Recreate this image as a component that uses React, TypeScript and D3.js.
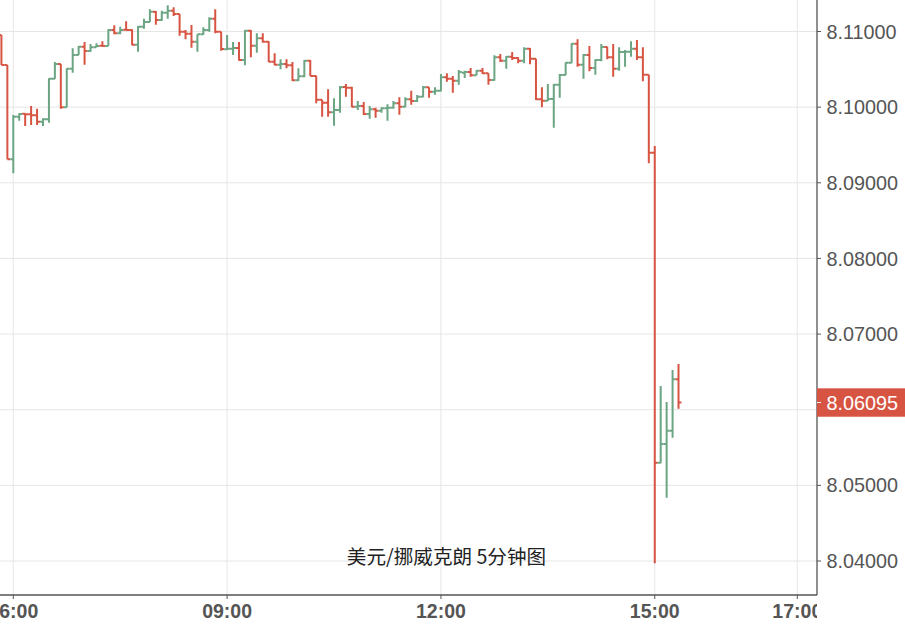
import React from "react";
import * as d3 from "d3";

const times = [
  "05:50","05:55","06:00","06:05","06:10","06:15","06:20","06:25","06:30","06:35","06:40","06:45","06:50","06:55",
  "07:00","07:05","07:10","07:15","07:20","07:25","07:30","07:35","07:40","07:45","07:50","07:55",
  "08:00","08:05","08:10","08:15","08:20","08:25","08:30","08:35","08:40","08:45","08:50","08:55",
  "09:00","09:05","09:10","09:15","09:20","09:25","09:30","09:35","09:40","09:45","09:50","09:55",
  "10:00","10:05","10:10","10:15","10:20","10:25","10:30","10:35","10:40","10:45","10:50","10:55",
  "11:00","11:05","11:10","11:15","11:20","11:25","11:30","11:35","11:40","11:45","11:50","11:55",
  "12:00","12:05","12:10","12:15","12:20","12:25","12:30","12:35","12:40","12:45","12:50","12:55",
  "13:00","13:05","13:10","13:15","13:20","13:25","13:30","13:35","13:40","13:45","13:50","13:55",
  "14:00","14:05","14:10","14:15","14:20","14:25","14:30","14:35","14:40","14:45","14:50","14:55",
  "15:00","15:05","15:10","15:15","15:20",
];

const open = [
  8.10954,8.10557,8.09310,8.09874,8.09914,8.09905,8.09892,8.09808,8.09839,8.10376,8.10570,8.09997,8.10509,8.10689,
  8.10799,8.10742,8.10791,8.10813,8.10808,8.11020,8.10976,8.11024,8.11020,8.10826,8.11064,8.11126,
  8.11262,8.11152,8.11249,8.11275,8.11231,8.10998,8.10971,8.10866,8.10963,8.11020,8.11170,8.10998,
  8.10764,8.10773,8.10782,8.10623,8.11011,8.10813,8.10910,8.10866,8.10601,8.10562,8.10570,8.10553,
  8.10354,8.10407,8.10614,8.10412,8.10099,8.10059,8.09931,8.09962,8.10266,8.10257,8.10006,8.10015,
  8.09909,8.09971,8.09953,8.09984,8.09993,8.10050,8.10006,8.10103,8.10081,8.10138,8.10262,8.10205,
  8.10218,8.10394,8.10376,8.10350,8.10456,8.10465,8.10420,8.10482,8.10447,8.10359,8.10658,8.10614,
  8.10667,8.10650,8.10614,8.10773,8.10641,8.10103,8.10086,8.10108,8.10297,8.10425,8.10588,8.10839,
  8.10562,8.10689,8.10517,8.10623,8.10795,8.10658,8.10509,8.10729,8.10733,8.10773,8.10658,8.10429,
  8.09398,8.05299,8.05547,8.05722,8.06402,
];

const high = [
  8.10954,8.10557,8.09896,8.09918,8.09918,8.10015,8.09980,8.09852,8.10381,8.10597,8.10570,8.10513,8.10777,8.10808,
  8.10861,8.10835,8.10844,8.10870,8.11029,8.11082,8.11064,8.11134,8.11029,8.11073,8.11170,8.11293,
  8.11271,8.11275,8.11346,8.11320,8.11231,8.11020,8.11086,8.10963,8.11055,8.11187,8.11293,8.10998,
  8.10954,8.10861,8.10861,8.11020,8.11020,8.10976,8.10976,8.10870,8.10711,8.10632,8.10632,8.10597,
  8.10513,8.10623,8.10623,8.10416,8.10099,8.10235,8.10116,8.10279,8.10306,8.10271,8.10081,8.10068,
  8.10015,8.09993,8.09997,8.10037,8.10081,8.10130,8.10130,8.10218,8.10160,8.10279,8.10262,8.10262,
  8.10438,8.10447,8.10412,8.10491,8.10482,8.10517,8.10491,8.10517,8.10447,8.10685,8.10703,8.10676,
  8.10729,8.10658,8.10791,8.10782,8.10641,8.10262,8.10306,8.10306,8.10438,8.10592,8.10844,8.10896,
  8.10703,8.10808,8.10632,8.10835,8.10799,8.10835,8.10791,8.10755,8.10870,8.10888,8.10791,8.10429,
  8.09486,8.06313,8.06102,8.06525,8.06604,
];

const low = [
  8.10557,8.09310,8.09125,8.09821,8.09751,8.09764,8.09764,8.09751,8.09795,8.10376,8.09980,8.09997,8.10456,8.10689,
  8.10562,8.10733,8.10791,8.10799,8.10808,8.10963,8.10963,8.11020,8.10817,8.10733,8.11037,8.11126,
  8.11090,8.11143,8.11170,8.11205,8.10945,8.10896,8.10786,8.10733,8.10958,8.10998,8.10976,8.10747,
  8.10755,8.10689,8.10614,8.10553,8.10658,8.10720,8.10852,8.10597,8.10553,8.10500,8.10513,8.10346,
  8.10346,8.10394,8.10412,8.10050,8.09874,8.09874,8.09755,8.09927,8.10138,8.09997,8.09962,8.09896,
  8.09848,8.09861,8.09927,8.09821,8.09980,8.09900,8.09997,8.10033,8.10068,8.10130,8.10125,8.10165,
  8.10209,8.10337,8.10191,8.10297,8.10385,8.10403,8.10420,8.10438,8.10297,8.10350,8.10597,8.10509,
  8.10623,8.10579,8.10579,8.10566,8.10094,8.09997,8.10081,8.09729,8.10125,8.10425,8.10579,8.10535,
  8.10376,8.10473,8.10429,8.10606,8.10632,8.10403,8.10482,8.10535,8.10667,8.10623,8.10341,8.09257,
  8.03969,8.05291,8.04837,8.05630,8.06013,
];

const close = [
  8.10557,8.09310,8.09874,8.09909,8.09905,8.09892,8.09808,8.09839,8.10376,8.10570,8.09997,8.10509,8.10689,8.10799,
  8.10742,8.10791,8.10808,8.10808,8.11020,8.10976,8.11020,8.11020,8.10826,8.11064,8.11126,8.11262,
  8.11152,8.11249,8.11275,8.11231,8.10998,8.10971,8.10866,8.10963,8.11020,8.11170,8.10998,8.10769,
  8.10773,8.10782,8.10623,8.11011,8.10813,8.10910,8.10866,8.10601,8.10562,8.10570,8.10553,8.10354,
  8.10407,8.10614,8.10412,8.10099,8.10059,8.09931,8.09962,8.10262,8.10257,8.10006,8.10015,8.09909,
  8.09971,8.09953,8.09984,8.09993,8.10050,8.10006,8.10103,8.10081,8.10138,8.10262,8.10205,8.10218,
  8.10394,8.10376,8.10350,8.10465,8.10465,8.10420,8.10482,8.10447,8.10359,8.10658,8.10614,8.10667,
  8.10650,8.10614,8.10773,8.10641,8.10103,8.10086,8.10108,8.10297,8.10425,8.10588,8.10839,8.10562,
  8.10689,8.10517,8.10623,8.10795,8.10658,8.10509,8.10729,8.10733,8.10773,8.10658,8.10429,8.09398,
  8.05299,8.05547,8.05722,8.06402,8.06095,
];

const xTickLabels = ["06:00", "09:00", "12:00", "15:00", "17:00"];
const yTickValues = [8.04, 8.05, 8.06, 8.07, 8.08, 8.09, 8.1, 8.11];
const lastPrice = 8.06095;
const title = "美元/挪威克朗 5分钟图";

const W = 905;
const H = 626;
const plotRight = 817;
const plotBottom = 595;

const UP = "#6ba583";
const DOWN = "#d75442";
const GRID = "#e6e6e6";
const AXIS = "#555555";
const FONT = "Arial, 'Liberation Sans', sans-serif";

const toMin = (s: string) => {
  const [h, m] = s.split(":").map(Number);
  return h * 60 + m;
};

export default function App() {
  const x = d3.scaleLinear().domain([toMin("06:00"), toMin("17:00")]).range([13.3, 797.3]);
  const y = d3.scaleLinear().domain([8.04, 8.11]).range([561, 31.5]);
  const half = (x(5) - x(0)) / 2;
  const fmt = d3.format(".5f");

  const bars = times.map((t, i) => {
    const cx = x(toMin(t));
    const up = close[i] >= open[i];
    const d =
      `M${cx},${y(high[i])}V${y(low[i])}` +
      `M${cx - half},${y(open[i])}H${cx}` +
      `M${cx},${y(close[i])}H${cx + half}`;
    return <path key={t} d={d} stroke={up ? UP : DOWN} strokeWidth={2} fill="none" />;
  });

  const priceY = y(lastPrice);

  return (
    <svg
      width={W}
      height={H}
      style={{ position: "absolute", left: 0, top: 0, background: "#fff" }}
    >
      <defs>
        <clipPath id="plotClip">
          <rect x={0} y={0} width={plotRight} height={plotBottom} />
        </clipPath>
        <clipPath id="xLabClip">
          <rect x={0} y={plotBottom} width={plotRight} height={H - plotBottom} />
        </clipPath>
      </defs>
      <rect x={0} y={0} width={W} height={H} fill="#fff" />
      <g clipPath="url(#plotClip)">
        {yTickValues.map((v) => (
          <line key={v} x1={0} x2={plotRight} y1={y(v)} y2={y(v)} stroke={GRID} strokeWidth={1} />
        ))}
        {xTickLabels.map((t) => (
          <line key={t} x1={x(toMin(t))} x2={x(toMin(t))} y1={0} y2={plotBottom} stroke={GRID} strokeWidth={1} />
        ))}
        <text
          x={446.5}
          y={564}
          textAnchor="middle"
          fontFamily="'Noto Sans CJK SC', sans-serif"
          fontSize={19.6}
          fill="#222"
        >
          {title}
        </text>
        {bars}
      </g>
      {/* axes */}
      <line x1={plotRight} x2={plotRight} y1={0} y2={plotBottom} stroke={AXIS} strokeWidth={1.3} />
      <line x1={0} x2={plotRight} y1={plotBottom} y2={plotBottom} stroke={AXIS} strokeWidth={1.3} />
      {yTickValues
        .filter((v) => Math.abs(y(v) - priceY) > 16)
        .map((v) => (
          <g key={v}>
            <line x1={plotRight} x2={plotRight + 4} y1={y(v)} y2={y(v)} stroke={AXIS} strokeWidth={1} />
            <text x={826.5} y={y(v)} dy="0.36em" fontFamily={FONT} fontSize={19.8} fill="#555">
              {fmt(v)}
            </text>
          </g>
        ))}
      <g clipPath="url(#xLabClip)">
        {xTickLabels.map((t) => (
          <g key={t}>
            <line x1={x(toMin(t))} x2={x(toMin(t))} y1={plotBottom} y2={plotBottom + 4} stroke={AXIS} strokeWidth={1} />
            <text
              x={x(toMin(t))}
              y={618}
              textAnchor="middle"
              fontFamily={FONT}
              fontSize={19.5}
              fontWeight="bold"
              fill="#555"
            >
              {t}
            </text>
          </g>
        ))}
      </g>
      {/* last price marker */}
      <rect x={plotRight} y={priceY - 14.2} width={W - plotRight} height={28.4} fill={DOWN} />
      <line x1={plotRight} x2={plotRight + 4} y1={priceY} y2={priceY} stroke="#fff" strokeWidth={1} />
      <text x={826.5} y={priceY} dy="0.36em" fontFamily={FONT} fontSize={19.8} fill="#fff">
        {fmt(lastPrice)}
      </text>
    </svg>
  );
}
